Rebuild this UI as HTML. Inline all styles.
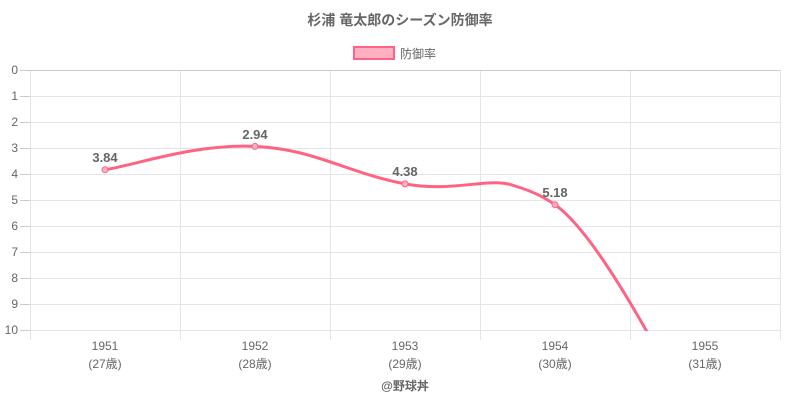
<!DOCTYPE html>
<html><head><meta charset="utf-8"><style>
html,body{margin:0;background:#fff;overflow:hidden;width:800px;height:400px;}
svg{display:block;font-family:"Liberation Sans","Noto Sans CJK JP",sans-serif;}
</style></head><body>
<svg width="800" height="400" viewBox="0 0 800 400">
<defs><clipPath id="c"><rect x="30" y="69" width="750" height="262"/></clipPath></defs>
<text x="400" y="25" text-anchor="middle" font-size="14" font-weight="bold" fill="#666">杉浦 竜太郎のシーズン防御率</text>
<rect x="354" y="47" width="40" height="12" fill="#ffb1c1" stroke="#ff6384" stroke-width="2"/>
<text x="400" y="58" font-size="12" fill="#666">防御率</text>
<g stroke="#e5e5e5" stroke-width="1">
<line x1="30" y1="96.5" x2="780" y2="96.5"/><line x1="30" y1="122.5" x2="780" y2="122.5"/>
<line x1="30" y1="148.5" x2="780" y2="148.5"/><line x1="30" y1="174.5" x2="780" y2="174.5"/>
<line x1="30" y1="200.5" x2="780" y2="200.5"/><line x1="30" y1="226.5" x2="780" y2="226.5"/>
<line x1="30" y1="252.5" x2="780" y2="252.5"/><line x1="30" y1="278.5" x2="780" y2="278.5"/>
<line x1="30" y1="304.5" x2="780" y2="304.5"/><line x1="30" y1="330.5" x2="780" y2="330.5"/>
<line x1="180.5" y1="70" x2="180.5" y2="340"/><line x1="330.5" y1="70" x2="330.5" y2="340"/>
<line x1="480.5" y1="70" x2="480.5" y2="340"/><line x1="630.5" y1="70" x2="630.5" y2="340"/>
<line x1="780.5" y1="70" x2="780.5" y2="340"/><line x1="30.5" y1="70" x2="30.5" y2="340"/>
</g>
<g stroke="#ccc"><line x1="20" y1="70.5" x2="780" y2="70.5"/>
<line x1="20" y1="96.5" x2="30" y2="96.5"/><line x1="20" y1="122.5" x2="30" y2="122.5"/><line x1="20" y1="148.5" x2="30" y2="148.5"/><line x1="20" y1="174.5" x2="30" y2="174.5"/><line x1="20" y1="200.5" x2="30" y2="200.5"/><line x1="20" y1="226.5" x2="30" y2="226.5"/><line x1="20" y1="252.5" x2="30" y2="252.5"/><line x1="20" y1="278.5" x2="30" y2="278.5"/><line x1="20" y1="304.5" x2="30" y2="304.5"/><line x1="20" y1="330.5" x2="30" y2="330.5"/></g>
<g font-size="12" fill="#666" text-anchor="end">
<text x="18" y="74">0</text><text x="18" y="100">1</text><text x="18" y="126">2</text><text x="18" y="152">3</text><text x="18" y="178">4</text><text x="18" y="204">5</text><text x="18" y="230">6</text><text x="18" y="256">7</text><text x="18" y="282">8</text><text x="18" y="308">9</text><text x="18" y="334">10</text>
</g>
<g font-size="12" fill="#666" text-anchor="middle">
<text x="105" y="350">1951</text><text x="105" y="368">(27歳)</text>
<text x="255" y="350">1952</text><text x="255" y="368">(28歳)</text>
<text x="405" y="350">1953</text><text x="405" y="368">(29歳)</text>
<text x="555" y="350">1954</text><text x="555" y="368">(30歳)</text>
<text x="705" y="350">1955</text><text x="705" y="368">(31歳)</text>
</g>
<text x="405" y="390" text-anchor="middle" font-size="12" font-weight="bold" fill="#666">@野球丼</text>
<path clip-path="url(#c)" d="M105,169.8 C135,165.1 195,143.6 255,146.4 C315,149.2 345,172.2 405,183.9 C455,193 490,176 515,186 C535,192 545,198 555,204.7 C605,240 675,388 705,434" fill="none" stroke="#ff6384" stroke-width="3"/>
<g fill="#ffb1c1" stroke="#ff6384" stroke-width="1">
<circle cx="105" cy="169.8" r="3"/><circle cx="255" cy="146.4" r="3"/><circle cx="405" cy="183.9" r="3"/><circle cx="555" cy="204.7" r="3"/></g>
<g font-size="13" font-weight="bold" fill="#666" text-anchor="middle">
<text x="105" y="162">3.84</text><text x="255" y="139">2.94</text><text x="405" y="176">4.38</text><text x="555" y="197">5.18</text></g>
</svg>
</body></html>
